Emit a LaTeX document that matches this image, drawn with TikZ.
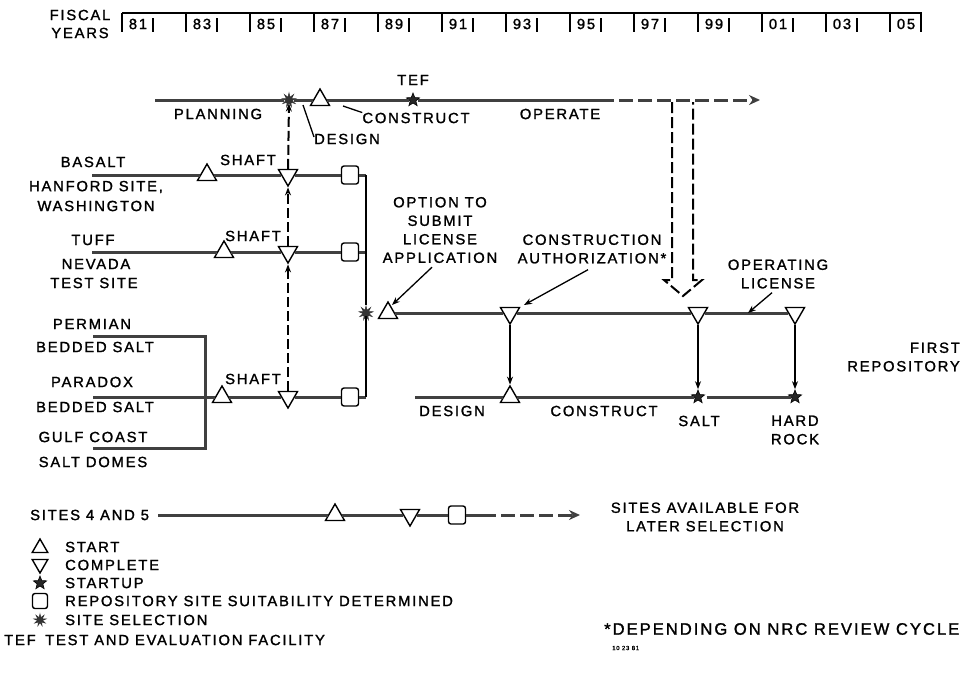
\documentclass[tikz,border=0pt]{standalone}
\usepackage{fontspec}
\setmainfont[LetterSpace=12,FakeBold=1.4]{Liberation Sans}
\usetikzlibrary{shapes.geometric,arrows.meta}
\begin{document}
\begin{tikzpicture}[x=1pt,y=-1pt,
  every node/.style={font=\fontsize{14.8}{18.5}\selectfont, inner sep=0pt, align=center},
  tl/.style={draw=black!75, line width=3pt},
  vl/.style={draw=black, line width=2pt},
  vd/.style={draw=black, line width=2pt, dash pattern=on 10pt off 4pt},
  tick/.style={draw=black, line width=1.8pt},
  ldr/.style={draw=black, line width=1.3pt},
  tip/.style={-{Stealth[length=8pt,width=6pt]}},
  startm/.style={regular polygon, regular polygon sides=3, draw=black, fill=white, line width=1.4pt, minimum size=22pt, inner sep=0pt},
  compm/.style={startm, shape border rotate=180},
  sqm/.style={rectangle, rounded corners=2.5pt, draw=black, fill=white, line width=1.4pt, minimum width=17pt, minimum height=18pt},
  starm/.style={star, star points=5, star point ratio=2.3, fill=black!85, draw=black, line width=0.6pt, minimum size=14pt, inner sep=0pt},
  selm/.style={star, star points=9, star point ratio=2.4, fill=black!80, draw=black!80, line width=0.6pt, minimum size=14pt, inner sep=0pt},
  small/.style={font=\fontsize{16.6}{19}\selectfont}
]
\useasboundingbox (0,0) rectangle (965,683);

% ---------- fiscal years header ----------
\node (fiscal) at (80,15) {FISCAL};
\node (years) at (80,33) {YEARS};
\draw[tick] (122,13) -- (922,13);
\foreach \lab [count=\i from 0, evaluate=\i as \xx using 138+64*\i] in {81,83,85,87,89,91,93,95,97,99,01,03,05}{
  \node (y\lab) at (\xx,24) {\lab};
  \draw[tick] (\xx-16,13) -- (\xx-16,32);
  \draw[tick] (\xx+15,18) -- (\xx+15,32);
}
\draw[tick] (921,13) -- (921,32);

% ---------- planning / TEF line ----------
\coordinate (planS) at (155,100);
\node[selm] (sel1) at (289,100) {};
\node[startm] (des1) at (320,100) {};
\node[starm] (tef) at (413,100) {};
\coordinate (opS) at (600,100);
\coordinate (opE) at (760,100);
\draw[tl] (planS) -- (sel1) -- (des1) -- (tef) -- (opS);
\draw[tl, dash pattern=on 14pt off 5pt, -{Stealth[length=11pt,width=10pt]}] (opS) -- (opE);

\node (tefl) at (413,80) {TEF};
\node (planning) at (218,114) {PLANNING};
\node (constr) at (416,118) {CONSTRUCT};
\node (design) at (347,139) {DESIGN};
\node (operate) at (560,114) {OPERATE};
\coordinate (cL) at (343,106);
\coordinate (dL) at (303,105);
\draw[ldr] (constr.north west) -- (cL);
\draw[ldr] ([yshift=2pt]design.west) -- (dL);

% double dashed arrow
\coordinate (dA) at (672,102);
\coordinate (dB) at (672,280);
\coordinate (dC) at (664,280);
\coordinate (dT) at (683,296);
\coordinate (dD) at (702,280);
\coordinate (dE) at (693,280);
\coordinate (dF) at (693,102);
\draw[vd, dash pattern=on 11pt off 4pt] (dA) -- (dB) -- (dC) -- (dT) -- (dD) -- (dE) -- (dF);

% ---------- basalt ----------
\node (basalt) at (93,162) {BASALT};
\node (hanford) at (96,187) {HANFORD SITE,};
\node (wash) at (96,206) {WASHINGTON};
\node (shaft1) at (248,160) {SHAFT};
\coordinate (bS) at (92,175);
\node[startm] (bst) at (207,175) {};
\node[compm] (bco) at (288,175) {};
\node[sqm] (bsq) at (350,175) {};
\coordinate (bC) at (366,175);
\draw[tl] (bS) -- (bst) -- (bco) -- (bsq) -- (bC);

% ---------- tuff ----------
\node (tuff) at (93,240) {TUFF};
\node (nevada) at (96,264) {NEVADA};
\node (testsite) at (94,283) {TEST SITE};
\node (shaft2) at (253,236) {SHAFT};
\coordinate (tS) at (92,252);
\node[startm] (tst) at (224,252) {};
\node[compm] (tco) at (288,252) {};
\node[sqm] (tsq) at (350,252) {};
\coordinate (tC) at (366,252);
\draw[tl] (tS) -- (tst) -- (tco) -- (tsq) -- (tC);

% ---------- salt sites ----------
\node (permian) at (92,324) {PERMIAN};
\node (bedded1) at (95,347) {BEDDED SALT};
\node (paradox) at (92,382) {PARADOX};
\node (bedded2) at (95,407) {BEDDED SALT};
\node (gulf) at (93,437) {GULF COAST};
\node (domes) at (93,462) {SALT DOMES};
\node (shaft3) at (253,379) {SHAFT};
\coordinate (pmS) at (93,336);
\coordinate (pmJ) at (205,336);
\coordinate (gS) at (93,448);
\coordinate (gJ) at (205,448);
\coordinate (pS) at (93,397);
\coordinate (pJ) at (205,397);
\node[startm] (pst) at (222,397) {};
\node[compm] (pco) at (288,397) {};
\node[sqm] (psq) at (350,397) {};
\coordinate (pC) at (366,397);
\draw[tl] (pmS) -- (pmJ) -- (gJ) -- (gS);
\draw[tl] (pS) -- (pJ) -- (pst) -- (pco) -- (psq) -- (pC);

% selection bar
\node[selm] (sel2) at (366,313) {};
\draw[vl] (bC) -- (sel2);
\draw[vl] (sel2) -- (pC);

% shafts dashed arrows up
\draw[vd, tip] (pco) -- (tco);
\draw[vd, tip] (tco) -- (bco);
\draw[vd, tip] (bco) -- (sel1);

% ---------- first repository ----------
\node[startm] (osl) at (388,313) {};
\node[compm] (ca) at (510,313) {};
\node[compm] (sc) at (698,313) {};
\node[compm] (hc) at (795,313) {};
\coordinate (olT) at (748,313);
\draw[tl] (osl) -- (ca) -- (sc) -- (hc);

\node (option) at (440,230) {OPTION TO\\SUBMIT\\LICENSE\\APPLICATION};
\node (cauth) at (592,249) {CONSTRUCTION\\AUTHORIZATION*};
\node (oplic) at (778,274) {OPERATING\\LICENSE};
\node[anchor=east, align=right] (firstrep) at (960,357) {FIRST\\REPOSITORY};
\coordinate (oaE) at (392,305);
\coordinate (caE) at (524,305);
\draw[ldr, tip] (option.south) ++(-8,4) coordinate (oaS) -- (oaE);
\draw[ldr, tip] (cauth.south) ++(-4,6) coordinate (caS) -- (caE);
\draw[ldr, tip] (oplic.south) ++(-6,4) coordinate (olS) -- (olT);

\coordinate (dlS) at (415,397);
\node[startm] (dst) at (510,397) {};
\node[starm] (sst) at (698,397) {};
\node[starm] (hst) at (795,397) {};
\draw[tl] (dlS) -- (dst) -- (sst);
\draw[tl] ([xshift=4pt]sst.east) -- (hst);
\draw[vl, tip] (ca) -- (dst);
\draw[vl, tip] (sc) -- (sst);
\draw[vl, tip] (hc) -- (hst);

\node (design2) at (452,411) {DESIGN};
\node (construct2) at (604,411) {CONSTRUCT};
\node (salt) at (699,421) {SALT};
\node (hardrock) at (795,430) {HARD\\ROCK};

% ---------- sites 4 and 5 ----------
\node[anchor=west] (sites45) at (30,515) {SITES 4 AND 5};
\coordinate (s4S) at (158,515);
\node[startm] (s4st) at (335,515) {};
\node[compm] (s4co) at (410,515) {};
\node[sqm] (s4sq) at (457,515) {};
\coordinate (s4D) at (482,515);
\coordinate (s4E) at (580,515);
\draw[tl] (s4S) -- (s4st) -- (s4co) -- (s4sq) -- (s4D);
\draw[tl, dash pattern=on 14pt off 5pt, -{Stealth[length=11pt,width=10pt]}] (s4D) -- (s4E);
\node (avail) at (705,517) {SITES AVAILABLE FOR\\LATER SELECTION};

% ---------- legend ----------
\node[startm, minimum size=18pt] (lg1) at (40,548) {};
\node[compm, minimum size=18pt] (lg2) at (40,564) {};
\node[starm] (lg3) at (40,583) {};
\node[sqm, minimum width=15pt, minimum height=15pt] (lg4) at (40,601) {};
\node[selm, minimum size=12pt] (lg5) at (40,620) {};
\node[anchor=west] (lt1) at (65,547) {START};
\node[anchor=west] (lt2) at (65,565) {COMPLETE};
\node[anchor=west] (lt3) at (65,583) {STARTUP};
\node[anchor=west] (lt4) at (65,601) {REPOSITORY SITE SUITABILITY DETERMINED};
\node[anchor=west] (lt5) at (65,620) {SITE SELECTION};
\node[anchor=west] (lt6a) at (4,640) {TEF};
\node[anchor=west] (lt6) at (45,640) {TEST AND EVALUATION FACILITY};

\node[anchor=west, small] (foot) at (604,629) {*DEPENDING ON NRC REVIEW CYCLE};
\node[anchor=west, font=\fontsize{6}{7}\selectfont] (code) at (612,648) {10 23 81};
\end{tikzpicture}
\end{document}
